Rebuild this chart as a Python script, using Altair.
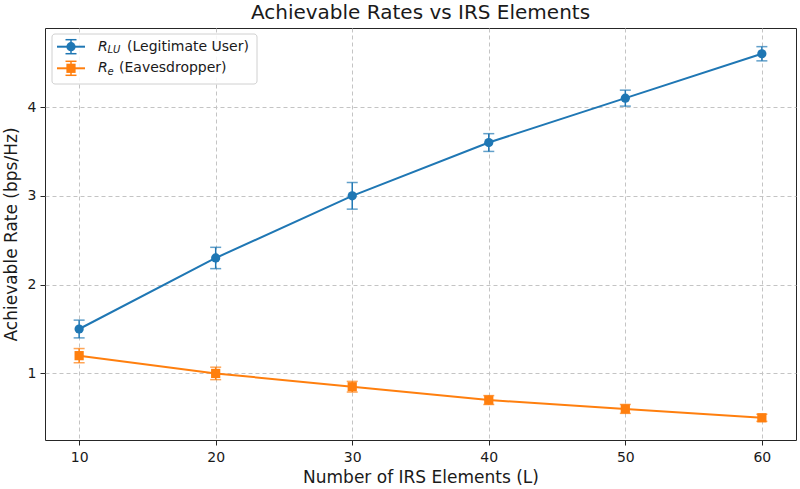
import altair as alt
import pandas as pd

# IRS element counts and achievable rates (bps/Hz) with their error margins
elements = [10, 20, 30, 40, 50, 60]
rate_lu = [1.5, 2.3, 3.0, 3.6, 4.1, 4.6]
err_lu = [0.10, 0.12, 0.15, 0.10, 0.09, 0.08]
rate_e = [1.2, 1.0, 0.85, 0.7, 0.6, 0.5]
err_e = [0.08, 0.07, 0.06, 0.05, 0.05, 0.04]

series_names = ["LU", "E"]
series_colors = ["#1f77b4", "#ff7f0e"]
series_shapes = ["circle", "square"]

rows = []
for name, rates, errs in (("LU", rate_lu, err_lu), ("E", rate_e, err_e)):
    for L, r, e in zip(elements, rates, errs):
        rows.append({"series": name, "L": L, "rate": r, "lo": r - e, "hi": r + e})
df = pd.DataFrame(rows)

FONT = "DejaVu Sans"
W, H = 751, 412

color = alt.Color("series:N", scale=alt.Scale(domain=series_names, range=series_colors), legend=None)
shape = alt.Shape("series:N", scale=alt.Scale(domain=series_names, range=series_shapes), legend=None)

x = alt.X("L:Q", scale=alt.Scale(domain=[7.5, 62.5], nice=False, zero=False),
          axis=alt.Axis(values=elements, format="d", title="Number of IRS Elements (L)"))
y = alt.Y("rate:Q", scale=alt.Scale(domain=[0.25, 4.89], nice=False, zero=False),
          axis=alt.Axis(values=[1, 2, 3, 4], format="d", title="Achievable Rate (bps/Hz)"))

base = alt.Chart(df)

bars = base.mark_rule(strokeWidth=1.5).encode(x=x, y=alt.Y("lo:Q"), y2="hi:Q", color=color)
cap_lo = base.mark_tick(orient="horizontal", size=11, thickness=1.5).encode(x="L:Q", y="lo:Q", color=color)
cap_hi = base.mark_tick(orient="horizontal", size=11, thickness=1.5).encode(x="L:Q", y="hi:Q", color=color)
lines = base.mark_line(strokeWidth=2).encode(x=x, y=y, color=color, detail="series:N")
points = base.mark_point(filled=True, size=85, opacity=1).encode(x="L:Q", y="rate:Q", color=color, shape=shape)

# Legend drawn in pixel space at the upper left of the plot
one = alt.Data(values=[{}])
leg = [
    alt.Chart(one).mark_rect(fill="white", fillOpacity=0.85, stroke="#d0d0d0", strokeWidth=1, cornerRadius=3).encode(
        x=alt.value(7), x2=alt.value(212), y=alt.value(6), y2=alt.value(56)
    )
]
legend_rows = [
    (18.7, series_colors[0], "circle", "LU", "(Legitimate User)", 82),
    (40.3, series_colors[1], "square", "e", "(Eavesdropper)", 74),
]
for ly, col, shp, sub, rest, rest_x in legend_rows:
    leg.append(alt.Chart(one).mark_rule(color=col, strokeWidth=2).encode(
        x=alt.value(12), x2=alt.value(40), y=alt.value(ly)))
    leg.append(alt.Chart(one).mark_rule(color=col, strokeWidth=1.5).encode(
        x=alt.value(26), y=alt.value(ly - 7), y2=alt.value(ly + 7)))
    for cy in (ly - 7, ly + 7):
        leg.append(alt.Chart(one).mark_rule(color=col, strokeWidth=1.5).encode(
            x=alt.value(20.5), x2=alt.value(31.5), y=alt.value(cy)))
    leg.append(alt.Chart(one).mark_point(filled=True, size=85, opacity=1, color=col, shape=shp).encode(
        x=alt.value(26), y=alt.value(ly)))
    leg.append(alt.Chart(one).mark_text(align="left", baseline="middle", font=FONT, fontStyle="italic",
                                        fontSize=14, color="#1a1a1a").encode(
        x=alt.value(53), y=alt.value(ly), text=alt.value("R")))
    leg.append(alt.Chart(one).mark_text(align="left", baseline="middle", font=FONT, fontStyle="italic",
                                        fontSize=10, color="#1a1a1a").encode(
        x=alt.value(62.5), y=alt.value(ly + 3.5), text=alt.value(sub)))
    leg.append(alt.Chart(one).mark_text(align="left", baseline="middle", font=FONT,
                                        fontSize=14, color="#1a1a1a").encode(
        x=alt.value(rest_x), y=alt.value(ly), text=alt.value(rest)))

chart = alt.layer(bars, cap_lo, cap_hi, lines, points, *leg).properties(
    width=W, height=H,
    title=alt.TitleParams("Achievable Rates vs IRS Elements", font=FONT, fontSize=20,
                          fontWeight="normal", color="#1a1a1a", offset=5, anchor="middle"),
    autosize=alt.AutoSizeParams(type="none"),
    padding={"left": 45, "top": 28, "right": 4, "bottom": 49},
).configure_view(
    stroke="#262626", strokeWidth=1
).configure_axis(
    domain=False,
    grid=True, gridColor="#c4c4c4", gridDash=[4, 3], gridWidth=1,
    ticks=True, tickSize=5, tickColor="#262626", tickWidth=1,
    labelFont=FONT, labelFontSize=14, labelColor="#1a1a1a",
    titleFont=FONT, titleFontSize=17, titleFontWeight="normal", titleColor="#1a1a1a",
).configure_axisX(labelPadding=5, titlePadding=5).configure_axisY(labelPadding=4, titlePadding=7)

chart.save("out.html", embed_options={"renderer": "svg", "actions": False})
